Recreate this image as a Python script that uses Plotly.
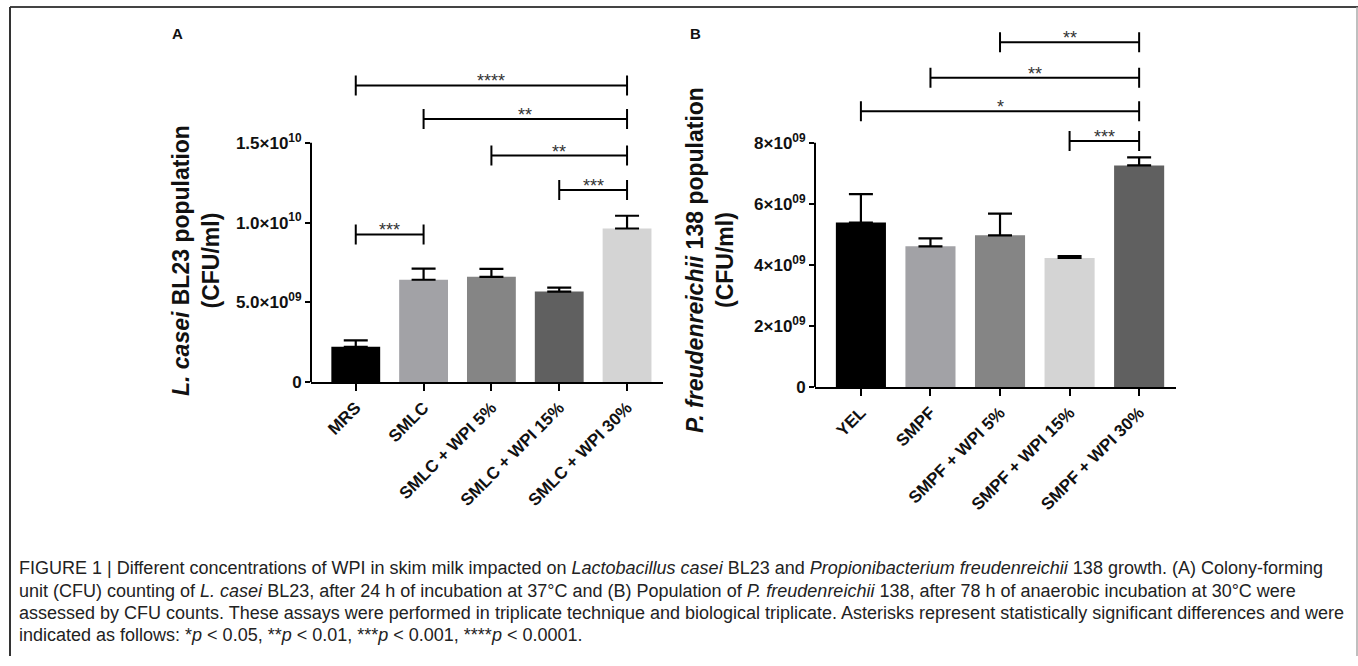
import plotly.graph_objects as go

# ---- data -------------------------------------------------------------
cats_a = ["MRS", "SMLC", "SMLC + WPI 5%", "SMLC + WPI 15%", "SMLC + WPI 30%"]
vals_a = [2.22e9, 6.42e9, 6.60e9, 5.68e9, 9.63e9]
err_a = [0.40e9, 0.70e9, 0.50e9, 0.25e9, 0.80e9]
colors_a = ["#000000", "#a2a2a6", "#858585", "#606060", "#d4d4d4"]
# (from, to, level, label)
brackets_a = [
    ("MRS", "SMLC + WPI 30%", 18.6e9, "****"),
    ("SMLC", "SMLC + WPI 30%", 16.5e9, "**"),
    ("SMLC + WPI 5%", "SMLC + WPI 30%", 14.2e9, "**"),
    ("SMLC + WPI 15%", "SMLC + WPI 30%", 12.05e9, "***"),
    ("MRS", "SMLC", 9.26e9, "***"),
]
ytick_a = [0, 5e9, 1e10, 1.5e10]
ytext_a = ["0", "5.0×10<sup>09</sup>", "1.0×10<sup>10</sup>", "1.5×10<sup>10</sup>"]

cats_b = ["YEL", "SMPF", "SMPF + WPI 5%", "SMPF + WPI 15%", "SMPF + WPI 30%"]
vals_b = [5.39e9, 4.61e9, 4.97e9, 4.23e9, 7.26e9]
err_b = [0.93e9, 0.26e9, 0.71e9, 0.06e9, 0.26e9]
colors_b = ["#000000", "#a2a2a6", "#858585", "#d4d4d4", "#606060"]
brackets_b = [
    ("SMPF + WPI 5%", "SMPF + WPI 30%", 11.29e9, "**"),
    ("SMPF", "SMPF + WPI 30%", 10.13e9, "**"),
    ("YEL", "SMPF + WPI 30%", 9.03e9, "*"),
    ("SMPF + WPI 15%", "SMPF + WPI 30%", 8.06e9, "***"),
]
ytick_b = [0, 2e9, 4e9, 6e9, 8e9]
ytext_b = ["0", "2×10<sup>09</sup>", "4×10<sup>09</sup>", "6×10<sup>09</sup>", "8×10<sup>09</sup>"]

caption_lines = [
    "FIGURE 1 | Different concentrations of WPI in skim milk impacted on <i>Lactobacillus casei</i> BL23 and "
    "<i>Propionibacterium freudenreichii</i> 138 growth. (A) Colony-forming",
    "unit (CFU) counting of <i>L. casei</i> BL23, after 24 h of incubation at 37°C and (B) Population of "
    "<i>P. freudenreichii</i> 138, after 78 h of anaerobic incubation at 30°C were",
    "assessed by CFU counts. These assays were performed in triplicate technique and biological triplicate. "
    "Asterisks represent statistically significant differences and were",
    "indicated as follows: *<i>p</i> &lt; 0.05, **<i>p</i> &lt; 0.01, ***<i>p</i> &lt; 0.001, "
    "****<i>p</i> &lt; 0.0001.",
]

# ---- layout helpers ---------------------------------------------------
W, H = 1358, 666
FONT = "Arial, Liberation Sans, sans-serif"


def px_x(p):
    return p / W


def px_y(p):
    return 1 - p / H


fig = go.Figure()

panels = [
    dict(cats=cats_a, vals=vals_a, err=err_a, colors=colors_a, brackets=brackets_a,
         tv=ytick_a, tt=ytext_a, xa="x", ya="y", xdom=(311, 663), ydom=(64, 388),
         yrange=[0, 2.0e10], ytop=1.5e10),
    dict(cats=cats_b, vals=vals_b, err=err_b, colors=colors_b, brackets=brackets_b,
         tv=ytick_b, tt=ytext_b, xa="x2", ya="y2", xdom=(815, 1176), ydom=(21, 393),
         yrange=[0, 12e9], ytop=8e9),
]

shapes = []
annotations = []

for i, p in enumerate(panels):
    fig.add_trace(go.Bar(
        x=p["cats"], y=p["vals"], xaxis=p["xa"], yaxis=p["ya"],
        marker=dict(color=p["colors"], line=dict(width=0)),
        width=0.72,
        error_y=dict(type="data", symmetric=False, array=p["err"],
                     arrayminus=[0] * len(p["err"]), color="black",
                     thickness=2.2, width=12),
        showlegend=False, hoverinfo="skip",
    ))
    suffix = "" if i == 0 else "2"
    fig.layout["xaxis" + suffix] = dict(
        domain=[px_x(p["xdom"][0]), px_x(p["xdom"][1])],
        anchor=p["ya"], type="category", range=[-0.66, 4.53],
        showline=True, linecolor="black", linewidth=2,
        ticks="outside", ticklen=7, tickwidth=2, tickcolor="black",
        tickangle=-45, tickfont=dict(family=FONT, size=17, color="#111"),
        showgrid=False, zeroline=False,
        tickvals=p["cats"], ticktext=["<b>%s</b>" % c for c in p["cats"]],
    )
    fig.layout["yaxis" + suffix] = dict(
        domain=[px_y(p["ydom"][1]), px_y(p["ydom"][0])],
        anchor=p["xa"], range=p["yrange"],
        showline=False, ticks="outside", ticklen=5, tickwidth=2, tickcolor="black",
        tickvals=p["tv"], ticktext=["<b>%s</b>" % t for t in p["tt"]],
        tickfont=dict(family=FONT, size=17, color="#111"),
        showgrid=False, zeroline=False,
    )
    # y-axis line only up to the top tick
    shapes.append(dict(type="line", xref=p["xa"] + " domain", yref=p["ya"],
                       x0=0, x1=0, y0=0, y1=p["ytop"],
                       line=dict(color="black", width=2)))
    # significance brackets
    for a, b, lvl, lab in p["brackets"]:
        ia, ib = p["cats"].index(a), p["cats"].index(b)
        shapes.append(dict(type="line", xref=p["xa"], yref=p["ya"],
                           x0=ia, x1=ib, y0=lvl, y1=lvl,
                           line=dict(color="black", width=2)))
        for xi in (ia, ib):
            shapes.append(dict(type="line", xref=p["xa"], yref=p["ya"],
                               ysizemode="pixel", yanchor=lvl, y0=-10, y1=10,
                               x0=xi, x1=xi, line=dict(color="black", width=2)))
        annotations.append(dict(xref=p["xa"], yref=p["ya"], x=(ia + ib) / 2, y=lvl,
                                text=lab, showarrow=False, yanchor="middle", yshift=4,
                                font=dict(family=FONT, size=18, color="#333")))

# axis titles
annotations.append(dict(xref="paper", yref="paper", x=px_x(196), y=px_y(264),
                        text="<b><i>L. casei</i> BL23 population<br>(CFU/ml)</b>",
                        textangle=-90, showarrow=False, xanchor="center", yanchor="middle",
                        font=dict(family=FONT, size=23, color="#111")))
annotations.append(dict(xref="paper", yref="paper", x=px_x(710), y=px_y(264),
                        text="<b><i>P. freudenreichii</i> 138 population<br>(CFU/ml)</b>",
                        textangle=-90, showarrow=False, xanchor="center", yanchor="middle",
                        font=dict(family=FONT, size=23, color="#111")))
# panel letters
annotations.append(dict(xref="paper", yref="paper", x=px_x(170), y=px_y(34),
                        text="<b>A</b>", showarrow=False, xanchor="left", yanchor="middle",
                        font=dict(family=FONT, size=15, color="#111")))
annotations.append(dict(xref="paper", yref="paper", x=px_x(688), y=px_y(34),
                        text="<b>B</b>", showarrow=False, xanchor="left", yanchor="middle",
                        font=dict(family=FONT, size=15, color="#111")))

# caption
for k, line in enumerate(caption_lines):
    annotations.append(dict(xref="paper", yref="paper", x=px_x(17), y=px_y(577 + 22.7 * k),
                            text=line, showarrow=False, xanchor="left", yanchor="middle",
                            font=dict(family=FONT, size=18, color="#222")))

# frame
shapes.append(dict(type="line", xref="paper", yref="paper", x0=px_x(10), x1=1,
                   y0=px_y(7), y1=px_y(7), line=dict(color="#444", width=2)))
shapes.append(dict(type="line", xref="paper", yref="paper", x0=px_x(10), x1=px_x(10),
                   y0=0, y1=px_y(7), line=dict(color="#333", width=2)))
shapes.append(dict(type="line", xref="paper", yref="paper", x0=px_x(1357), x1=px_x(1357),
                   y0=0, y1=px_y(7), line=dict(color="#aaa", width=1.5)))

fig.update_layout(
    width=W, height=H, margin=dict(l=0, r=0, t=0, b=0),
    paper_bgcolor="white", plot_bgcolor="white",
    shapes=shapes, annotations=annotations, bargap=0.28,
    font=dict(family=FONT),
)

fig.write_html("out.html")
